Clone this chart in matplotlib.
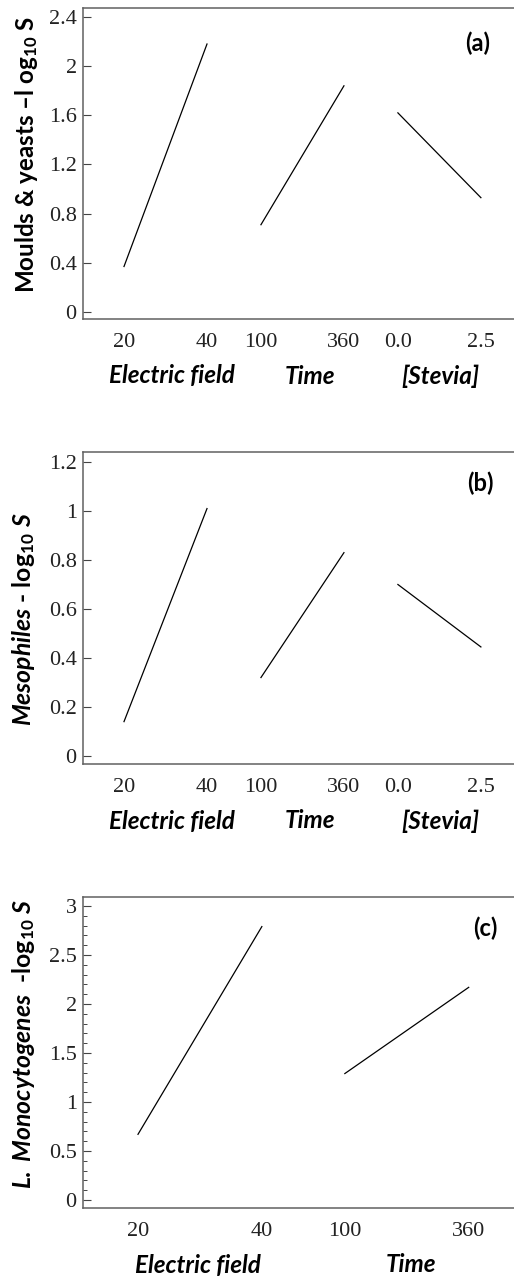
import matplotlib
matplotlib.use("Agg")
import matplotlib.pyplot as plt
from matplotlib.ticker import MultipleLocator

plt.rcParams['mathtext.fontset'] = 'custom'
plt.rcParams['mathtext.rm'] = 'Lato:bold'
plt.rcParams['mathtext.bf'] = 'Lato:bold'
plt.rcParams['mathtext.it'] = 'Lato:bold:italic'

# ---------------- data ----------------
# factor levels (tick labels)
ef_levels = ["20", "40"]
time_levels = ["100", "360"]
stevia_levels = ["0.0", "2.5"]

# (a) Moulds & yeasts
a_ef = [0.37, 2.18]
a_time = [0.71, 1.84]
a_stevia = [1.62, 0.93]

# (b) Mesophiles
b_ef = [0.14, 1.01]
b_time = [0.32, 0.83]
b_stevia = [0.70, 0.445]

# (c) L. monocytogenes
c_ef = [0.67, 2.79]
c_time = [1.29, 2.17]

factor_names_ab = ["Electric field", "Time", "[Stevia]"]
factor_names_c = ["Electric field", "Time"]

# ---------------- layout ----------------
W, H = 514, 1280
fig = plt.figure(figsize=(W / 100, H / 100), dpi=100)

serif = "Liberation Serif"
sans = "Lato"
spine_col = "#606060"


def px_rect(left, top, right, bottom):
    return [left / W, 1 - bottom / H, (right - left) / W, (bottom - top) / H]


def make_panel(rect, series, levels, offsets, names, name_x, ylim, yticks,
               yticklabels, xlim, minor=None):
    ax = fig.add_axes(rect)
    xt, xl = [], []
    for vals, lev, off in zip(series, levels, offsets):
        xs = [off, off + 1]
        ax.plot(xs, vals, color="black", lw=0.9)
        xt += xs
        xl += lev
    ax.set_xlim(*xlim)
    ax.set_ylim(*ylim)
    ax.set_xticks(xt)
    ax.set_xticklabels(xl, fontfamily=serif, fontsize=16)
    ax.tick_params(axis="x", length=0, pad=10, colors="#222222")
    ax.set_yticks(yticks)
    ax.set_yticklabels(yticklabels, fontfamily=serif, fontsize=16)
    ax.tick_params(axis="y", direction="in", length=5.8, width=0.8,
                   pad=4.5, color="#444444", labelcolor="#222222")
    if minor:
        ax.yaxis.set_minor_locator(MultipleLocator(minor))
        ax.tick_params(axis="y", which="minor", direction="in", length=2.9,
                       width=0.7, color="#444444")
    for s in ["left", "top", "bottom"]:
        ax.spines[s].set_color(spine_col)
        ax.spines[s].set_linewidth(1.1)
    ax.spines["right"].set_visible(False)
    for n, x in zip(names, name_x):
        ax.annotate(n, xy=(x, 0), xycoords=("data", "axes fraction"),
                    xytext=(0, -57), textcoords="offset pixels",
                    ha="center", va="center", fontfamily=sans,
                    fontweight="bold", fontstyle="italic", fontsize=17.5)
    return ax


# panel (a)
make_panel(px_rect(83, 8, 517, 319), [a_ef, a_time, a_stevia],
           [ef_levels, time_levels, stevia_levels], [0, 1.65, 3.3],
           factor_names_ab, [0.58, 2.24, 3.81],
           (-0.057, 2.473), [0, 0.4, 0.8, 1.2, 1.6, 2.0, 2.4],
           ["0", "0.4", "0.8", "1.2", "1.6", "2", "2.4"], (-0.494, 4.735))
fig.text(478 / W, 1 - 43 / H, "(a)", ha="center", va="center",
         fontfamily=sans, fontweight="bold", fontsize=17)
fig.text(27 / W, 1 - 155 / H, r"Moulds & yeasts –l og$_{\mathrm{10}}$ S",
         rotation=90, ha="center", va="center", fontfamily=sans,
         fontweight="bold", fontsize=17.4)

# panel (b)
make_panel(px_rect(83, 452, 517, 764), [b_ef, b_time, b_stevia],
           [ef_levels, time_levels, stevia_levels], [0, 1.65, 3.3],
           factor_names_ab, [0.58, 2.24, 3.81],
           (-0.033, 1.241), [0, 0.2, 0.4, 0.6, 0.8, 1.0, 1.2],
           ["0", "0.2", "0.4", "0.6", "0.8", "1", "1.2"], (-0.494, 4.735))
fig.text(480 / W, 1 - 483 / H, "(b)", ha="center", va="center",
         fontfamily=sans, fontweight="bold", fontsize=17)
fig.text(24 / W, 1 - 619 / H,
         r"$\mathit{Mesophiles}$ - log$_{\mathrm{10}}$ $\mathit{S}$",
         rotation=90, ha="center", va="center", fontfamily=sans,
         fontweight="bold", fontsize=17.8)

# panel (c)
make_panel(px_rect(83, 897, 517, 1208), [c_ef, c_time],
           [ef_levels, time_levels], [0, 1.67],
           factor_names_c, [0.48, 2.2],
           (-0.082, 3.092), [0, 0.5, 1, 1.5, 2, 2.5, 3],
           ["0", "0.5", "1", "1.5", "2", "2.5", "3"], (-0.444, 3.06),
           minor=0.1)
fig.text(485 / W, 1 - 928 / H, "(c)", ha="center", va="center",
         fontfamily=sans, fontweight="bold", fontsize=17)
fig.text(24 / W, 1 - 1044 / H,
         r"$\mathit{L.}$ $\mathit{Monocytogenes}$  -log$_{\mathrm{10}}$ $\mathit{S}$",
         rotation=90, ha="center", va="center", fontfamily=sans,
         fontweight="bold", fontsize=17.8)

fig.savefig("out.png", dpi=100)
